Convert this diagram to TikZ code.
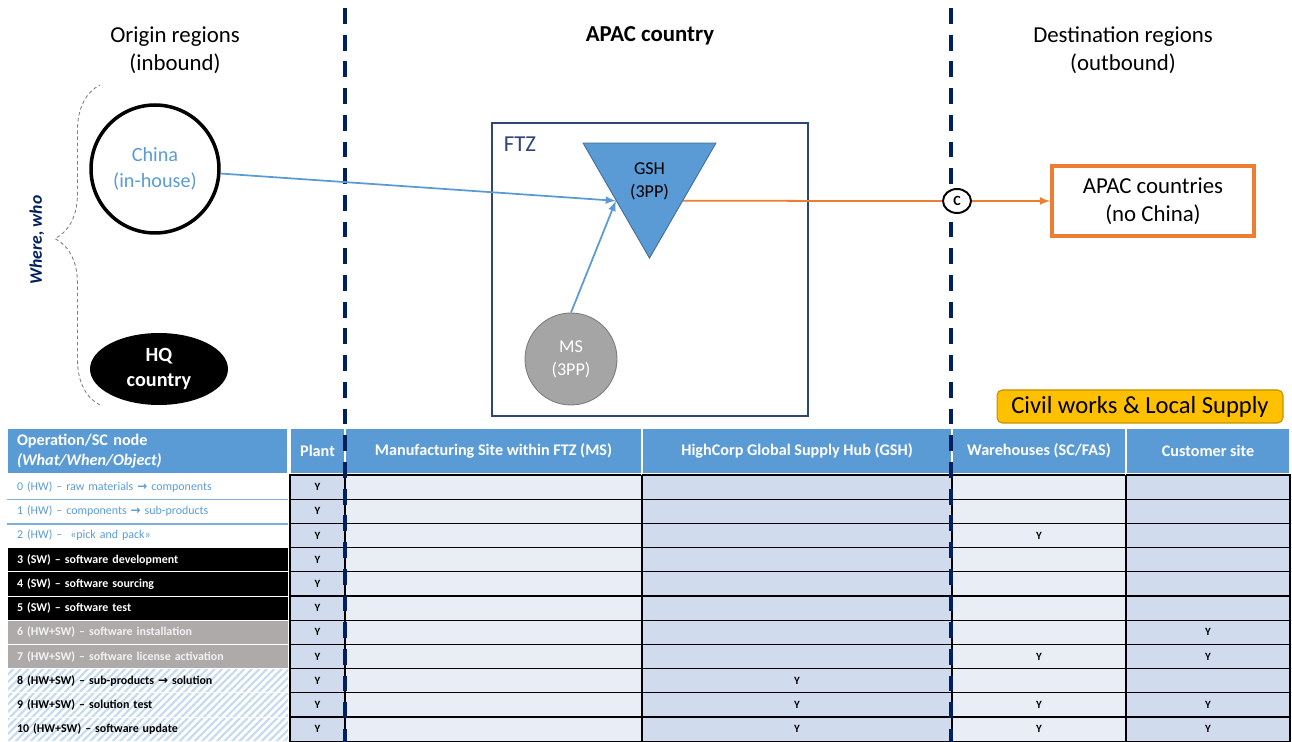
\documentclass[tikz,border=0pt]{standalone}
\usepackage{fontspec}
\setmainfont{Carlito}
\newfontfamily\arrowfont{DejaVu Sans}
\usepackage{tikz}
\usetikzlibrary{arrows,shapes,calc}
\usetikzlibrary{patterns.meta,decorations.pathreplacing}
\definecolor{navy}{RGB}{0,32,96}
\definecolor{hcblue}{RGB}{91,155,213}
\definecolor{hcorange}{RGB}{237,125,49}
\definecolor{hcgold}{RGB}{255,192,0}
\definecolor{hcgoldline}{RGB}{191,144,0}
\definecolor{msgray}{RGB}{165,165,165}
\definecolor{rowgray}{RGB}{174,170,170}
\definecolor{celldark}{RGB}{208,220,238}
\definecolor{celllight}{RGB}{233,238,246}
\definecolor{hatchblue}{RGB}{196,218,240}
\definecolor{ftzline}{RGB}{47,69,120}
\newcommand{\opsize}{\fontsize{6.8}{8.2}\selectfont}
\newcommand{\arrowsym}{{\arrowfont\bfseries →}}
\tikzstyle{heading}=[align=center, font=\fontsize{13}{16}\selectfont]
\tikzstyle{origin}=[circle, draw=black, line width=2pt, minimum size=2.56cm, inner sep=0pt, align=center, text=hcblue, font=\fontsize{11.5}{14.5}\selectfont]
\tikzstyle{hq}=[ellipse, fill=black, minimum width=2.76cm, minimum height=1.44cm, inner sep=0pt, align=center, text=white, font=\fontsize{11.5}{14.5}\selectfont\bfseries]
\tikzstyle{hub}=[regular polygon, regular polygon sides=3, shape border rotate=180, fill=hcblue, draw=hcblue!70!black, line width=0.5pt, minimum size=3.07cm, inner sep=0pt, align=center, font=\fontsize{10.3}{13}\selectfont]
\tikzstyle{site}=[circle, fill=msgray, draw=msgray!75!black, line width=0.5pt, minimum size=1.84cm, inner sep=0pt, align=center, text=white, font=\fontsize{10.3}{13}\selectfont]
\tikzstyle{customs}=[ellipse, draw=black, fill=white, line width=1.1pt, minimum width=0.56cm, minimum height=0.48cm, inner sep=0pt, font=\fontsize{8}{9}\selectfont\bfseries]
\tikzstyle{dest}=[rectangle, draw=hcorange, line width=2.2pt, minimum width=4.04cm, minimum height=1.40cm, align=center, font=\fontsize{13}{16}\selectfont]
\tikzstyle{civil}=[rectangle, rounded corners=3pt, fill=hcgold, draw=hcgoldline, line width=0.6pt, minimum width=5.72cm, minimum height=0.66cm, font=\fontsize{14}{17}\selectfont]
\tikzstyle{ftzbox}=[rectangle, draw=ftzline, line width=1pt, minimum width=6.32cm, minimum height=5.86cm]
\tikzstyle{ftzlabel}=[text=ftzline, font=\fontsize{13}{16}\selectfont]
\tikzstyle{who}=[rotate=90, text=navy, font=\fontsize{10}{12}\selectfont\bfseries\itshape]
\tikzstyle{flow}=[draw, line width=1pt, ->, >=latex]
\tikzstyle{border}=[navy, line width=2.3pt, dash pattern=on 9pt off 6.2pt]
\tikzstyle{headcell}=[rectangle, fill=hcblue, draw=white, line width=1pt, minimum height=0.92cm, text=white, font=\fontsize{9.2}{11.5}\selectfont\bfseries, align=center]
\tikzstyle{opcell}=[rectangle, draw=white, line width=0.5pt, minimum width=5.62cm, minimum height=0.484cm, text width=5.22cm, inner xsep=0.2cm, inner ysep=0pt, align=left]
\tikzstyle{hwrow}=[text=hcblue, font=\opsize]
\tikzstyle{swrow}=[fill=black, text=white, font=\opsize\bfseries]
\tikzstyle{mixrow}=[fill=rowgray, text=gray!10, font=\opsize\bfseries]
\tikzstyle{solrow}=[pattern={Lines[angle=45,distance=3pt,line width=1.2pt]}, pattern color=hatchblue, text=black, font=\opsize\bfseries]
\tikzstyle{cell}=[rectangle, draw=black, line width=0.6pt, minimum height=0.484cm, inner sep=0pt]
\tikzstyle{ymark}=[font=\fontsize{6.3}{7}\selectfont\bfseries, inner sep=0pt]
\begin{document}
\begin{tikzpicture}[x=0.02cm, y=-0.02cm]
    \useasboundingbox (0,0) rectangle (1292,742);

    \node[heading] (origin) at (175,50) {Origin regions\\(inbound)};
    \node[heading, font=\fontsize{13}{16}\selectfont\bfseries] (apaccty) at (650,36) {APAC country};
    \node[heading] (destin) at (1123,50) {Destination regions\\(outbound)};

    % table
    \def\rowh{24.2}
    \def\rowtop{475}

    \node[headcell, minimum width=5.62cm, text width=5.22cm, inner xsep=0.2cm, align=left] (h0) at (147.5,451) {Operation/SC node\\\textit{(What/When/Object)}};

    \foreach \j/\colx/\colw/\colshade/\coltitle in {1/317.5/1.10/celldark/Plant, 2/493.5/5.94/celllight/{Manufacturing Site within FTZ (MS)}, 3/797/6.20/celldark/{HighCorp Global Supply Hub (GSH)}, 4/1039/3.48/celllight/{Warehouses (SC/FAS)}, 5/1208/3.28/celldark/{Customer site}}
    {
        \node[headcell, minimum width=\colw cm] (h\j) at (\colx,451) {\coltitle};
        \foreach \i in {0,...,10}
            \node[cell, fill=\colshade, minimum width=\colw cm] (c\j-\i) at (\colx, \rowtop+\rowh*\i+\rowh/2) {};
    }

    \foreach \i/\sty/\txt in {0/hwrow/{0 (HW) -- raw materials \arrowsym{} components}, 1/hwrow/{1 (HW) -- components \arrowsym{} sub-products}, 2/hwrow/{2 (HW) --~~«pick and pack»}, 3/swrow/{3 (SW) -- software development}, 4/swrow/{4 (SW) -- software sourcing}, 5/swrow/{5 (SW) -- software test}, 6/mixrow/{6 (HW+SW) -- software installation}, 7/mixrow/{7 (HW+SW) -- software license activation}, 8/solrow/{8 (HW+SW) -- sub-products \arrowsym{} solution}, 9/solrow/{9 (HW+SW) -- solution test}, 10/solrow/{10 (HW+SW) -- software update}}
        \node[opcell, \sty] (op\i) at (147.5, \rowtop+\rowh*\i+\rowh/2) {\txt};

    \foreach \i in {0,1}
        \draw[hcblue!80, line width=0.8pt] (op\i.south west) -- (op\i.south east);

    \foreach \i in {0,...,10}
        \node[ymark] (y1-\i) at (c1-\i) {Y};
    \foreach \j/\i in {3/8, 3/9, 3/10, 4/2, 4/7, 4/9, 4/10, 5/6, 5/7, 5/9, 5/10}
        \node[ymark] (y\j-\i) at (c\j-\i) {Y};

    \draw[border] (345,8) -- (345,742);
    \draw[border] (951,8) -- (951,742);

    % where, who
    \node[ftzbox] (ftz) at (650,269.5) {};
    \node[ftzlabel] (ftzname) at (520,144) {FTZ};

    \node[origin] (china) at (155,169) {China\\(in-house)};
    \node[hq] (hq) at (159,369) {HQ\\country};
    \node[hub] (gsh) at (649.5,181.4) {GSH\\(3PP)};
    \node[site] (ms) at (571,359) {MS\\(3PP)};
    \node[customs] (cmark) at (957,201) {C};
    \node[dest] (apac) at (1153,201) {APAC countries\\(no China)};
    \node[civil] (civil) at (1140,406.5) {Civil works \& Local Supply};

    \draw[flow, hcblue] (china) -- (gsh.210);
    \draw[flow, hcblue] (ms.north) -- (gsh.210);
    \draw[hcorange, line width=1pt] (gsh.330) -- (cmark);
    \draw[flow, hcorange] (cmark) -- (apac);

    \coordinate (bracebot) at (100,405);
    \coordinate (bracetop) at (100,85);
    \draw[gray, line width=0.5pt, dash pattern=on 2pt off 1.5pt, decorate, decoration={brace, amplitude=0.9cm, aspect=0.52}] (bracebot) -- (bracetop);
    \node[who] (where) at (37,240) {Where, who};

\end{tikzpicture}
\end{document}
